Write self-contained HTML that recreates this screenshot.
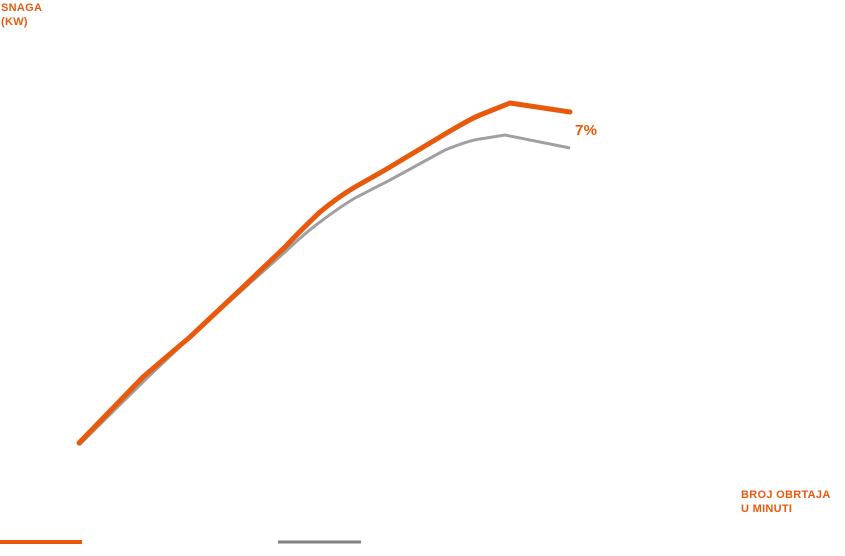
<!DOCTYPE html>
<html><head><meta charset="utf-8"><style>
html,body{margin:0;padding:0;background:#fff;width:845px;height:556px;overflow:hidden;font-family:"Liberation Sans",sans-serif}
.t{position:absolute;color:#e8590c;font-weight:bold;font-size:11px;line-height:14px;letter-spacing:0.3px}
</style></head><body>
<div class="t" style="left:1px;top:1px">SNAGA<br>(KW)</div>
<div class="t" style="left:741px;top:488px">BROJ OBRTAJA<br>U MINUTI</div>
<div class="t" style="left:575px;top:124px;font-size:15px">7%</div>
<svg width="845" height="556" style="position:absolute;left:0;top:0">
<path d="M79,445 L143,382 L190,337 L240,292 L285,252 Q305,233 320,222 Q340,207 355,198 L390,180 L445,150 Q470,140 480,139 L505,135 L570,148" fill="none" stroke="#a0a0a0" stroke-width="3"/>
<path d="M79,443 L143,377 Q165,358 190,337 L240,290 L285,247 Q305,226 320,212 Q338,197 355,187 L385,170 L440,137 Q470,119 480,115 L510,103 L570,112" fill="none" stroke="#e8590c" stroke-width="5" stroke-linecap="round" stroke-linejoin="round"/>
<line x1="0" y1="542" x2="82" y2="542" stroke="#e8590c" stroke-width="4"/>
<line x1="278" y1="542" x2="361" y2="542" stroke="#808080" stroke-width="3"/>
</svg>
</body></html>
